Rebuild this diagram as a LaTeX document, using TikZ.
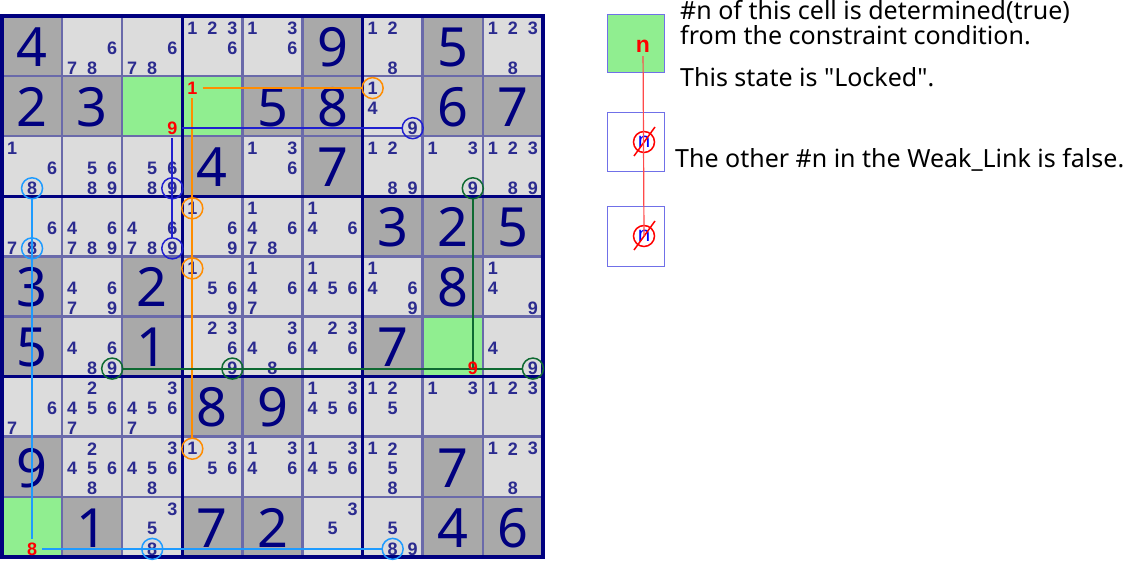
\documentclass[tikz,border=0pt]{standalone}
\usepackage{fontspec}
\setmainfont{Noto Sans}
\newfontfamily\candfont{Liberation Sans}
\newfontfamily\legendfont{Noto Sans}

\definecolor{navy}{HTML}{00007F}
\definecolor{candblue}{HTML}{2B2B8F}
\definecolor{givenbg}{HTML}{A9A9A9}
\definecolor{candbg}{HTML}{DCDCDC}
\definecolor{lockgreen}{HTML}{90EE90}
\definecolor{gridcol}{HTML}{6A6AAA}
\definecolor{linkorange}{HTML}{FF8C00}
\definecolor{linkblue}{HTML}{2020D0}
\definecolor{linkgreen}{HTML}{0E6A32}
\definecolor{linkcyan}{HTML}{1E9BFF}
\definecolor{boxblue}{HTML}{7070E8}
\definecolor{legendred}{HTML}{FF4A4A}

\pgfdeclarelayer{front}
\pgfsetlayers{main,front}

\begin{document}
\begin{tikzpicture}[x=1pt, y=-1pt,
    given/.style={inner sep=0pt, text=navy, font=\fontsize{54}{54}\selectfont},
    cand/.style={circle, minimum size=20pt, inner sep=0pt, text=candblue, font=\candfont\bfseries\fontsize{18}{18}\selectfont},
    locked/.style={cand, text=red},
    ring/.style={circle, draw=#1, line width=1.5pt, minimum size=21pt, inner sep=0pt},
    wlink/.style={draw=#1, line width=2pt},
    thinline/.style={gridcol, line width=2.5pt},
    boxline/.style={navy, line width=3.5pt},
    legendbox/.style={draw=boxblue, line width=1pt},
    falsemark/.style={circle, draw=red, line width=1.5pt, minimum size=21pt, inner sep=0pt, text=blue, font=\fontsize{21}{21}\selectfont},
    legendtext/.style={anchor=base west, inner sep=0pt, font=\legendfont\fontsize{25}{25}\selectfont}]

\useasboundingbox (0,0) rectangle (1137,561);

% cells: empty ones first, then the givens
\fill[candbg] (2,16) rectangle (543,557);
\foreach \rw/\cl/\dg in {1/1/4, 1/6/9, 1/8/5, 2/1/2, 2/2/3, 2/5/5, 2/6/8, 2/8/6, 2/9/7,
    3/4/4, 3/6/7, 4/7/3, 4/8/2, 4/9/5, 5/1/3, 5/3/2, 5/8/8, 6/1/5, 6/3/1, 6/7/7,
    7/4/8, 7/5/9, 8/1/9, 8/8/7, 9/2/1, 9/4/7, 9/5/2, 9/8/4, 9/9/6}{
  \fill[givenbg] ({2+(\cl-1)*60.1},{16+(\rw-1)*60.1}) rectangle ++(60.1,60.1);
  \node[given] (g\rw\cl) at ({2+(\cl-0.5)*60.1},{17+(\rw-0.5)*60.1}) {\dg};
}

% locked cells, the red digit sits on top of the links
\foreach \rw/\cl/\dg in {2/3/9, 2/4/1, 6/8/9, 9/1/8}{
  \fill[lockgreen] ({2+(\cl-1)*60.1},{16+(\rw-1)*60.1}) rectangle ++(60.1,60.1);
  \pgfmathsetmacro\px{2+(\cl-1)*60.1+(mod(\dg-1,3)+0.5)*60.1/3}
  \pgfmathsetmacro\py{18+(\rw-1)*60.1+(int((\dg-1)/3)+0.5)*60.1/3}
  \begin{pgfonlayer}{front}
    \node[locked] (n\rw\cl\dg) at (\px,\py) {\dg};
  \end{pgfonlayer}
}

% grid
\foreach \i in {1,...,8}{
  \draw[thinline] ({2+\i*60.1},16) -- ({2+\i*60.1},557);
  \draw[thinline] (2,{16+\i*60.1}) -- (543,{16+\i*60.1});
}
\foreach \i in {3,6}{
  \draw[boxline] ({2+\i*60.1},16) -- ({2+\i*60.1},557);
  \draw[boxline] (2,{16+\i*60.1}) -- (543,{16+\i*60.1});
}
\draw[boxline] (2,16) rectangle (543,557);

% candidates
\foreach \rw/\cl/\ks in {
    1/2/{6,7,8}, 1/3/{6,7,8}, 1/4/{1,2,3,6}, 1/5/{1,3,6}, 1/7/{1,2,8}, 1/9/{1,2,3,8},
    2/7/{1,4,9},
    3/1/{1,6,8}, 3/2/{5,6,8,9}, 3/3/{5,6,8,9}, 3/5/{1,3,6}, 3/7/{1,2,8,9}, 3/8/{1,3,9}, 3/9/{1,2,3,8,9},
    4/1/{6,7,8}, 4/2/{4,6,7,8,9}, 4/3/{4,6,7,8,9}, 4/4/{1,6,9}, 4/5/{1,4,6,7,8}, 4/6/{1,4,6},
    5/2/{4,6,7,9}, 5/4/{1,5,6,9}, 5/5/{1,4,6,7}, 5/6/{1,4,5,6}, 5/7/{1,4,6,9}, 5/9/{1,4,9},
    6/2/{4,6,8,9}, 6/4/{2,3,6,9}, 6/5/{3,4,6,8}, 6/6/{2,3,4,6}, 6/9/{4,9},
    7/1/{6,7}, 7/2/{2,4,5,6,7}, 7/3/{3,4,5,6,7}, 7/6/{1,3,4,5,6}, 7/7/{1,2,5}, 7/8/{1,3}, 7/9/{1,2,3},
    8/2/{2,4,5,6,8}, 8/3/{3,4,5,6,8}, 8/4/{1,3,5,6}, 8/5/{1,3,4,6}, 8/6/{1,3,4,5,6}, 8/7/{1,2,5,8}, 8/9/{1,2,3,8},
    9/3/{3,5,8}, 9/6/{3,5}, 9/7/{5,8,9}}{
  \foreach \dg in \ks{
    \pgfmathsetmacro\px{2+(\cl-1)*60.1+(mod(\dg-1,3)+0.5)*60.1/3}
    \pgfmathsetmacro\py{18+(\rw-1)*60.1+(int((\dg-1)/3)+0.5)*60.1/3}
    \node[cand] (n\rw\cl\dg) at (\px,\py) {\dg};
  }
}

% weak links
\draw[wlink=linkorange] (n241) -- (n271);
\draw[wlink=linkorange] (n241) -- (n841);
\draw[wlink=linkblue] (n239) -- (n279);
\draw[wlink=linkblue] (n239) -- (n439);
\draw[wlink=linkgreen] (n389) -- (n689.center);
\draw[wlink=linkgreen] (n629) -- (n699);
\draw[wlink=linkcyan] (n318) -- (n918);
\draw[wlink=linkcyan] (n918) -- (n978);

\foreach \nm/\clr in {n271/linkorange, n441/linkorange, n541/linkorange, n841/linkorange,
    n279/linkblue, n339/linkblue, n439/linkblue,
    n389/linkgreen, n629/linkgreen, n649/linkgreen, n699/linkgreen,
    n318/linkcyan, n418/linkcyan, n938/linkcyan, n978/linkcyan}
  \node[ring=\clr] (\nm r) at (\nm) {};

% legend
\fill[lockgreen] (607,15) rectangle (664,73);
\draw[legendbox] (607,15) rectangle (664,73);
\draw[legendbox] (607,113) rectangle (664,172);
\draw[legendbox] (607,207) rectangle (664,267);
\node[locked, font=\candfont\bfseries\fontsize{23}{23}\selectfont] (lgn) at (643,46) {n};
\node[falsemark] (lgx) at (644,142) {n};
\node[falsemark] (lgy) at (644,236) {n};
\draw[red, line width=1.5pt] (lgx) ++(-10,14) -- ++(21,-29);
\draw[red, line width=1.5pt] (lgy) ++(-10,14) -- ++(21,-29);
\draw[legendred, line width=1.2pt] (lgn) -- (lgy.center);

\node[legendtext] (t1) at (680,20) {\#n of this cell is determined(true)};
\node[legendtext] (t2) at (680,45) {from the constraint condition.};
\node[legendtext] (t3) at (680,87) {This state is "Locked".};
\node[legendtext] (t4) at (675,168) {The other \#n in the Weak\_Link is false.};

\end{tikzpicture}
\end{document}
